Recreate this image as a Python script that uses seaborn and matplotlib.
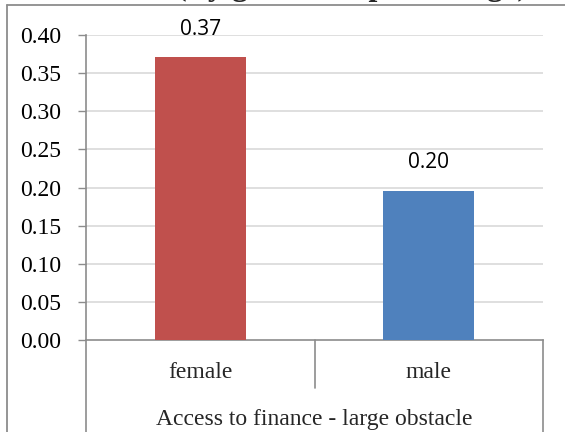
import matplotlib
matplotlib.use("Agg")
import matplotlib.pyplot as plt
import seaborn as sns
from matplotlib.lines import Line2D

# Chart data
categories = ["female", "male"]
shares = [0.371, 0.196]
bar_colors = ["#C0504D", "#4F81BD"]
y_ticks = [0.00, 0.05, 0.10, 0.15, 0.20, 0.25, 0.30, 0.35, 0.40]
group_label = "Access to finance - large obstacle"
title_text = "(By gender in percentage)"

sns.set_style("white")
plt.rcParams["font.family"] = ["Liberation Serif", "DejaVu Serif"]

W, H = 565, 432
fig = plt.figure(figsize=(W / 100, H / 100), dpi=100)
fig.patch.set_facecolor("white")

axis_gray = "#8c8c8c"
grid_gray = "#d9d9d9"


def fx(px):
    return px / W


def fy(py):
    return 1 - py / H


# Plot area in pixel terms: x 86..543, y 35..340
left, right, top, bottom = 86, 543, 35, 340
ax = fig.add_axes([fx(left), fy(bottom), (right - left) / W, (bottom - top) / H])

sns.barplot(x=categories, y=shares, hue=categories, palette=bar_colors,
            width=0.4, saturation=1, legend=False, linewidth=0, ax=ax, zorder=3)

ax.set_xlim(-0.5, 1.5)
ax.set_ylim(0, 0.40)
ax.set_yticks(y_ticks)
ax.set_yticklabels([f"{t:.2f}" for t in y_ticks], fontsize=17,
                   family=["Liberation Serif"])
ax.tick_params(axis="y", length=6, width=1, color=axis_gray, pad=12,
               left=True, labelcolor="black")
ax.set_xticks([])
ax.set_xlabel("")
ax.set_ylabel("")

for t in y_ticks[1:]:
    ax.axhline(t, color=grid_gray, lw=1.2, zorder=0)

for side in ["top", "right"]:
    ax.spines[side].set_visible(False)
for side in ["left", "bottom"]:
    ax.spines[side].set_color(axis_gray)
    ax.spines[side].set_linewidth(1.2)

# Value labels above the bars
for i, v in enumerate(shares):
    ax.annotate(f"{v:.2f}", (i, v), xytext=(0, 20), textcoords="offset points",
                ha="center", va="center", fontsize=15,
                family=["Open Sans", "DejaVu Sans"], color="black")

# Category table under the axis
def fig_line(x0, y0, x1, y1, **kw):
    fig.add_artist(Line2D([fx(x0), fx(x1)], [fy(y0), fy(y1)],
                          transform=fig.transFigure, **kw))


fig_line(left, bottom, left, H + 2, color=axis_gray, lw=1.2)
fig_line(right, bottom, right, H + 2, color=axis_gray, lw=1.2)
fig_line(315, bottom, 315, 388, color=axis_gray, lw=1.2)

x_to_fig = lambda xd: fig.transFigure.inverted().transform(
    ax.transData.transform((xd, 0)))[0]
for i, c in enumerate(categories):
    fig.text(x_to_fig(i), fy(372), c, ha="center", va="center", fontsize=17)
fig.text(x_to_fig(0.5), fy(419), group_label, ha="center", va="center",
         fontsize=17)

# Outer frame and title (title sits above the frame, mostly beyond the top edge)
fig_line(7, 5, W + 2, 5, color=axis_gray, lw=1.3)
fig_line(7, 5, 7, H + 2, color=axis_gray, lw=1.3)
fig.text(fx(352), fy(-4.5), title_text, ha="center", va="baseline",
         fontsize=23, fontweight="bold")

fig.savefig("out.png", dpi=100)
